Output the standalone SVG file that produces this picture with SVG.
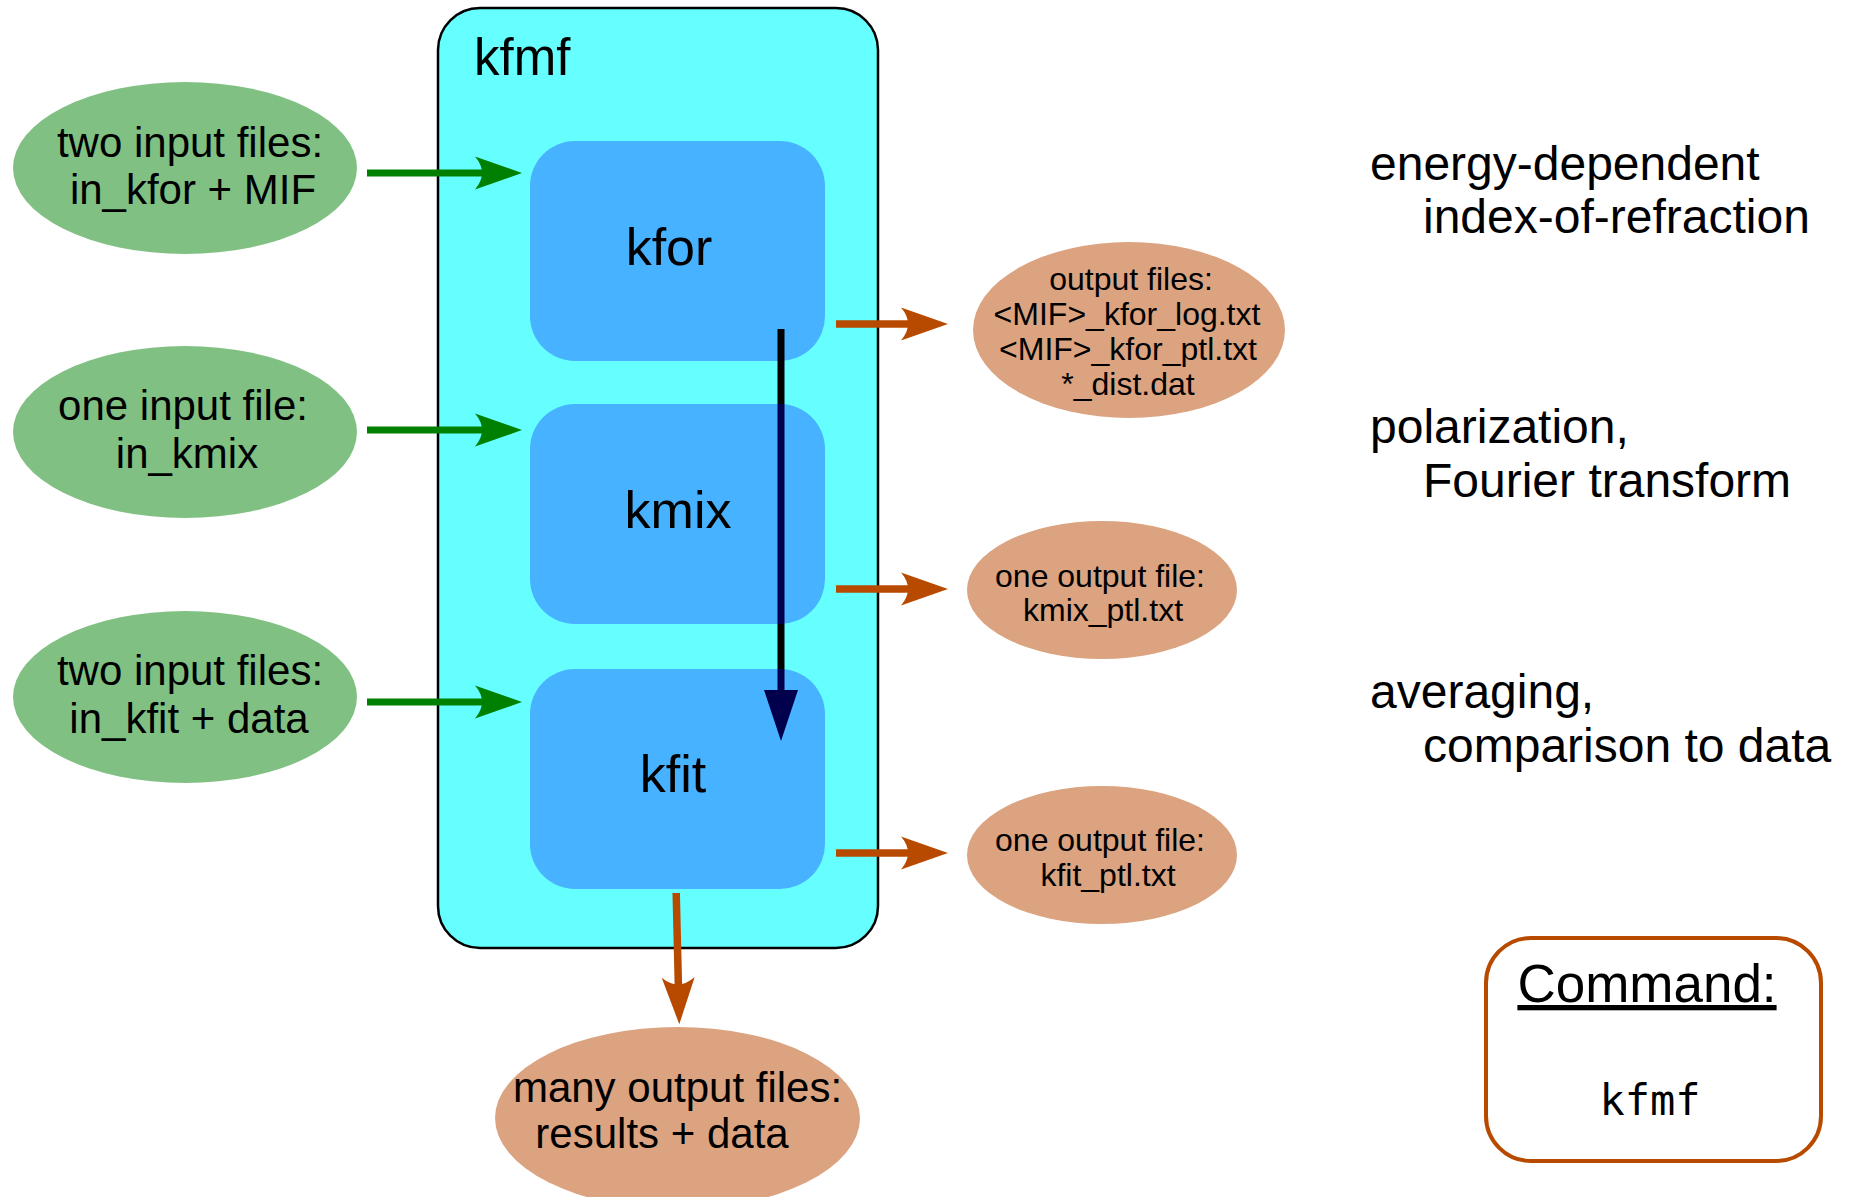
<svg xmlns="http://www.w3.org/2000/svg" width="1852" height="1197" viewBox="0 0 1852 1197">
  <style>
    text { font-family: "Liberation Sans", Arial, sans-serif; fill: #000; }
    .in { fill: #81c083; }
    .out { fill: #dba380; }
    .stage { fill: #0000ff; fill-opacity: 0.3; }
    .big { font-size: 42px; }
    .small { font-size: 32px; }
    .stage-label { font-size: 52px; text-anchor: middle; }
    .note { font-size: 48px; }
    .mid { text-anchor: middle; }
    .green { stroke: #008000; stroke-width: 7; fill: none; }
    .orange { stroke: #b84a00; stroke-width: 7.5; fill: none; }
    .flow { stroke: #000; stroke-width: 7; fill: none; }
  </style>
  <defs>
    <marker id="headGreen" markerUnits="userSpaceOnUse" viewBox="-10 -20 60 40" markerWidth="60" markerHeight="40" refX="2" refY="0" orient="auto">
      <path d="M40,0 L-7,-16.5 Q7,0 -7,16.5 Z" fill="#008000"/>
    </marker>
    <marker id="headOrange" markerUnits="userSpaceOnUse" viewBox="-10 -20 60 40" markerWidth="60" markerHeight="40" refX="2" refY="0" orient="auto">
      <path d="M40,0 L-7,-16.5 Q7,0 -7,16.5 Z" fill="#b84a00"/>
    </marker>
    <marker id="headFlow" markerUnits="userSpaceOnUse" viewBox="-5 -20 60 40" markerWidth="60" markerHeight="40" refX="2" refY="0" orient="auto">
      <path d="M0,-17 L51,0 L0,17 Z" fill="#000"/>
    </marker>
  </defs>

  <rect width="1852" height="1197" fill="#fff"/>

  <!-- container program -->
  <g id="kfmf">
    <rect x="438" y="8" width="440" height="940" rx="42" ry="42" fill="#66ffff" stroke="#000" stroke-width="2.5"/>
    <text x="474" y="75" style="font-size:51px">kfmf</text>
  </g>

  <g id="kfor">
    <rect class="stage" x="530" y="141" width="295" height="220" rx="45" ry="45"/>
    <text class="stage-label" x="669" y="265">kfor</text>
  </g>

  <!-- connectors -->
  <g id="connectors">
    <path class="green" d="M367,173 L484,173" marker-end="url(#headGreen)"/>
    <path class="green" d="M367,430 L484,430" marker-end="url(#headGreen)"/>
    <path class="green" d="M367,702 L484,702" marker-end="url(#headGreen)"/>
    <path class="orange" d="M836,324 L910,324" marker-end="url(#headOrange)"/>
    <path class="orange" d="M836,589 L910,589" marker-end="url(#headOrange)"/>
    <path class="orange" d="M836,853 L910,853" marker-end="url(#headOrange)"/>
    <path class="orange" d="M676.2,893 L678.4,986.3" marker-end="url(#headOrange)"/>
    <path class="flow" d="M781,329 L781,692" marker-end="url(#headFlow)"/>
  </g>

  <g id="kmix">
    <rect class="stage" x="530" y="404" width="295" height="220" rx="45" ry="45"/>
    <text class="stage-label" x="678" y="528">kmix</text>
  </g>

  <g id="kfit">
    <rect class="stage" x="530" y="669" width="295" height="220" rx="45" ry="45"/>
    <text class="stage-label" x="673" y="792">kfit</text>
  </g>

  <!-- inputs -->
  <g id="input-kfor">
    <ellipse class="in" cx="185" cy="168" rx="172" ry="86"/>
    <text class="big mid" x="190" y="157">two input files:</text>
    <text class="big mid" x="193" y="204">in_kfor + MIF</text>
  </g>
  <g id="input-kmix">
    <ellipse class="in" cx="185" cy="432" rx="172" ry="86"/>
    <text class="big mid" x="183" y="420">one input file:</text>
    <text class="big mid" x="187" y="468">in_kmix</text>
  </g>
  <g id="input-kfit">
    <ellipse class="in" cx="185" cy="697" rx="172" ry="86"/>
    <text class="big mid" x="190" y="685">two input files:</text>
    <text class="big mid" x="189" y="733">in_kfit + data</text>
  </g>

  <!-- outputs -->
  <g id="output-kfor">
    <ellipse class="out" cx="1129" cy="330" rx="156" ry="88"/>
    <text class="small mid" x="1131" y="290">output files:</text>
    <text class="small mid" x="1127" y="325">&lt;MIF&gt;_kfor_log.txt</text>
    <text class="small mid" x="1128" y="360">&lt;MIF&gt;_kfor_ptl.txt</text>
    <text class="small mid" x="1128" y="395">*_dist.dat</text>
  </g>
  <g id="output-kmix">
    <ellipse class="out" cx="1102" cy="590" rx="135" ry="69"/>
    <text class="small mid" x="1100" y="587">one output file:</text>
    <text class="small mid" x="1103" y="621">kmix_ptl.txt</text>
  </g>
  <g id="output-kfit">
    <ellipse class="out" cx="1102" cy="855" rx="135" ry="69"/>
    <text class="small mid" x="1100" y="851">one output file:</text>
    <text class="small mid" x="1108" y="886">kfit_ptl.txt</text>
  </g>
  <g id="output-results">
    <ellipse class="out" cx="677.5" cy="1118" rx="182.5" ry="91"/>
    <text class="big mid" x="677.5" y="1102">many output files:</text>
    <text class="big mid" x="662" y="1148">results + data</text>
  </g>

  <!-- stage descriptions -->
  <g id="notes">
    <text class="note" x="1370" y="180">energy-dependent</text>
    <text class="note" x="1423" y="233">index-of-refraction</text>
    <text class="note" x="1370" y="443">polarization,</text>
    <text class="note" x="1423" y="497">Fourier transform</text>
    <text class="note" x="1370" y="708">averaging,</text>
    <text class="note" x="1423" y="762">comparison to data</text>
  </g>

  <!-- command box -->
  <g id="command">
    <rect x="1486" y="938" width="335" height="223" rx="45" ry="45" fill="#fff" stroke="#b84a00" stroke-width="4"/>
    <text class="mid" x="1647" y="1002" style="font-size:53px;text-decoration:underline">Command:</text>
    <text class="mid" x="1650" y="1115" style="font-family:'DejaVu Sans Mono',monospace;font-size:42px">kfmf</text>
  </g>
</svg>
